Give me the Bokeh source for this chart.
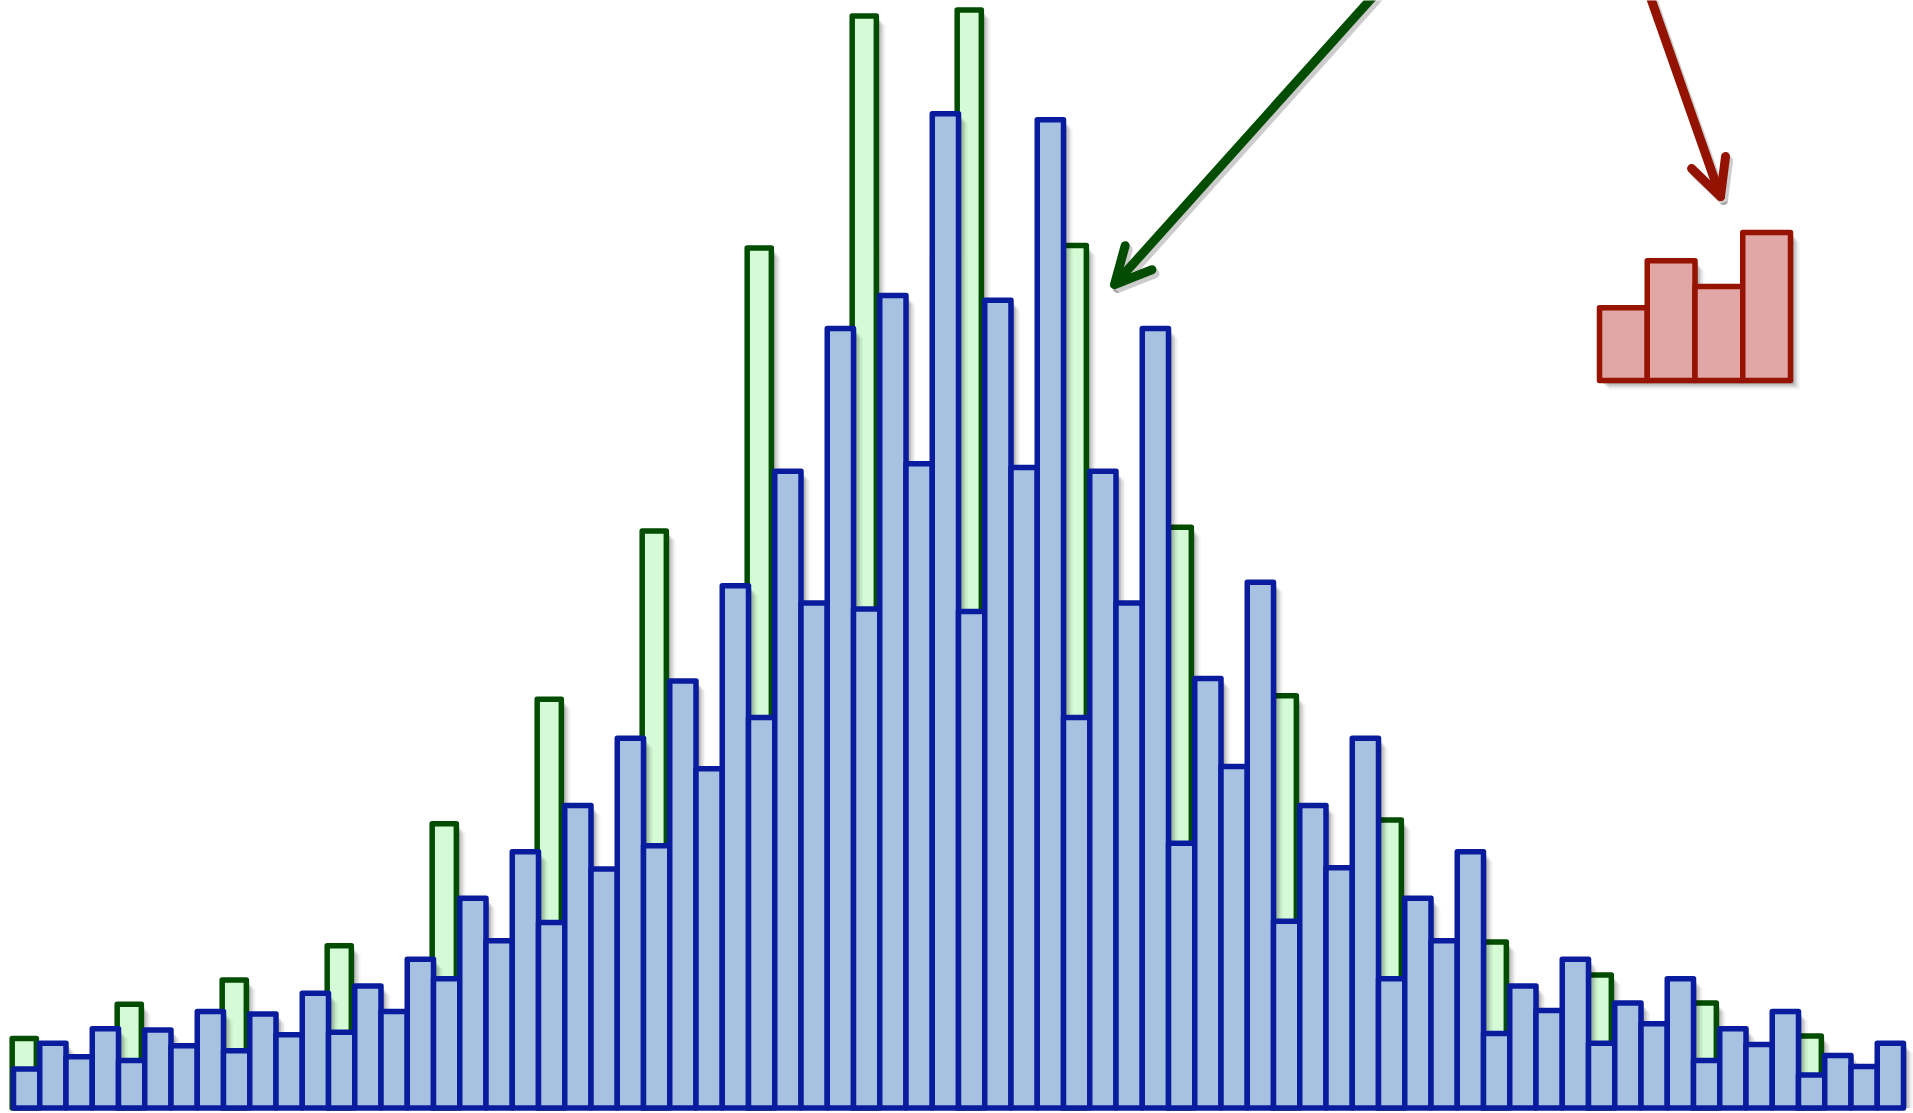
import numpy as np
from bokeh.plotting import figure
from bokeh.models import Range1d, Arrow, OpenHead, ColumnDataSource
from bokeh.embed import file_html
from bokeh.resources import INLINE

# ---------------- data ----------------
blue_counts = [32, 53, 42, 65, 39, 64, 51, 79, 47, 77, 60, 94,
               62, 100, 79, 122, 106, 172, 137, 210, 152, 248, 196, 303,
               215, 350, 278, 428, 320, 522, 414, 639, 409, 666, 528, 815,
               407, 662, 525, 810, 320, 522, 414, 639, 217, 352, 280, 431,
               153, 248, 197, 303, 106, 172, 137, 210, 61, 100, 80, 122,
               53, 86, 69, 106, 39, 65, 52, 79, 27, 43, 34, 53]
green_bins = list(range(0, 72, 4))
green_counts = [57, 85, 105, 133, 233, 335, 473, 705, 895,
                900, 707, 476, 338, 236, 136, 109, 86, 59]
inset_counts = [3.1, 5.1, 4.0, 6.3]

# ---------------- layout ----------------
W, H = 1913, 1113
OFF = 0                            # canvas offset on the page
PXX, PXY = 26.25, 1.22             # px per bin, px per count
X0, Y0 = 13.0, 1107.5              # screen position of bin 0 left edge / baseline

def ux(sx):
    return (sx - X0) / PXX

def vy(sy):
    return (Y0 - sy) / PXY

p = figure(width=W, height=H, output_backend="svg", toolbar_location=None,
           x_range=Range1d(ux(OFF), ux(OFF + W)), y_range=Range1d(vy(OFF + H), vy(OFF)),
           x_axis_location=None, y_axis_location=None, min_border=0)
p.min_border_left = p.min_border_right = p.min_border_top = p.min_border_bottom = 0
p.grid.visible = False
p.outline_line_color = None
p.background_fill_color = "white"
p.border_fill_color = "white"

# inset ranges (own scale for the small red histogram)
IX0, IW = 1599.0, 47.75     # screen left edge, px per bar
IY0, IU = 380.0, 23.5       # screen baseline, px per count
p.extra_x_ranges = {"ix": Range1d((OFF - IX0) / IW, (OFF + W - IX0) / IW)}
p.extra_y_ranges = {"iy": Range1d((IY0 - (OFF + H)) / IU, (IY0 - OFF) / IU)}

bx = np.arange(len(blue_counts))
bsrc = ColumnDataSource(dict(l=bx, r=bx + 1, t=blue_counts))
gx = np.array(green_bins)
gsrc = ColumnDataSource(dict(l=gx - 0.05, r=gx + 0.87, t=green_counts))

shadow_layers = [(2.0, 0.14), (3.5, 0.12), (5.0, 0.10), (6.5, 0.07), (8.0, 0.05), (9.5, 0.03)]

def shadows(l, r, t):
    for d, a in shadow_layers:
        p.quad(left=np.asarray(l) + d / PXX, right=np.asarray(r) + d / PXX,
               top=np.asarray(t, dtype=float) - d / PXY, bottom=0,
               fill_color="black", fill_alpha=a, line_color=None)

BAR_LW = 5.5
# green bars
shadows(gsrc.data["l"], gsrc.data["r"], green_counts)
p.quad(left="l", right="r", top="t", bottom=0, source=gsrc,
       fill_color="#d4fad6", line_color="#024d02", line_width=BAR_LW, line_join="round")
# blue bars
shadows(bsrc.data["l"], bsrc.data["r"], blue_counts)
p.quad(left="l", right="r", top="t", bottom=0, source=bsrc,
       fill_color="#a7c1e0", line_color="#0a1c9e", line_width=BAR_LW, line_join="round")

# inset red histogram
ix = np.arange(len(inset_counts))
for d, a in shadow_layers:
    p.quad(left=ix + d / IW, right=ix + 1 + d / IW,
           top=np.array(inset_counts) - d / IU, bottom=-d / IU,
           fill_color="black", fill_alpha=a, line_color=None,
           x_range_name="ix", y_range_name="iy")
p.quad(left=ix, right=ix + 1, top=inset_counts, bottom=0,
       fill_color="#e0a7a6", line_color="#961300", line_width=BAR_LW, line_join="round",
       x_range_name="ix", y_range_name="iy")

# arrows
def add_arrow(x0, y0, x1, y1, color, lw=9, size=36):
    for (dx, dy, c, a) in [(3, 4, "black", 0.2), (0, 0, color, 1.0)]:
        head = OpenHead(size=size, line_color=c, line_alpha=a, line_width=lw,
                        line_cap="round", line_join="round")
        p.add_layout(Arrow(end=head, x_start=ux(x0 + dx), y_start=vy(y0 + dy),
                           x_end=ux(x1 + dx), y_end=vy(y1 + dy),
                           line_color=c, line_alpha=a, line_width=lw, line_cap="round"))

add_arrow(1396, -30, 1114, 284, "#034d03")
add_arrow(1640.5, -30, 1720, 196, "#941200")

open("out.html", "w").write(file_html(p, INLINE))
